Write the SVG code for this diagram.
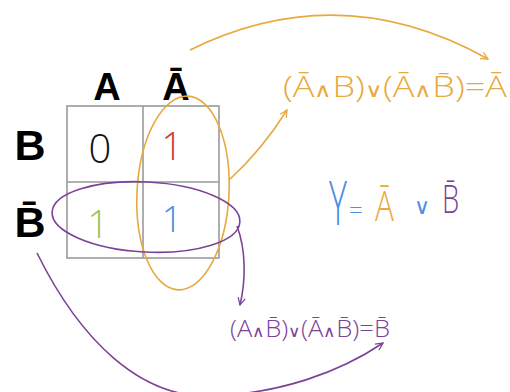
<svg xmlns="http://www.w3.org/2000/svg" width="510" height="392" viewBox="0 0 510 392">
<defs>
<style>
.grid{fill:none;stroke:#9a9a9a;stroke-width:1.6}
.hdr{font-family:"Liberation Sans",Arial,sans-serif;font-weight:bold;fill:#000}
.hand{font-family:"Open Sans","Liberation Sans",Arial,sans-serif;font-weight:300}
.op{font-family:"DejaVu Sans",sans-serif;font-weight:200}
.or{stroke:#e8a93e;fill:none;stroke-width:1.6}
.pu{stroke:#7b4398;fill:none;stroke-width:1.6}
</style>
<marker id="ao" viewBox="0 0 10 10" refX="9" refY="5" markerWidth="9" markerHeight="9" orient="auto" markerUnits="userSpaceOnUse">
<path d="M1,1 L9,5 L1,9" fill="none" stroke="#e8a93e" stroke-width="1.4"/>
</marker>
<marker id="ap" viewBox="0 0 10 10" refX="9" refY="5" markerWidth="9" markerHeight="9" orient="auto" markerUnits="userSpaceOnUse">
<path d="M1,1 L9,5 L1,9" fill="none" stroke="#7b4398" stroke-width="1.4"/>
</marker>
</defs>
<rect width="510" height="392" fill="#fff"/>

<g id="kmap">
<rect class="grid" x="67" y="106" width="152" height="152"/>
<line class="grid" x1="143" y1="106" x2="143" y2="258"/>
<line class="grid" x1="67" y1="182" x2="219" y2="182"/>
<text class="hdr" x="107" y="100" font-size="38" text-anchor="middle">A</text>
<text class="hdr" x="176" y="100" font-size="38" text-anchor="middle">Ā</text>
<text class="hdr" x="30" y="160" font-size="43" text-anchor="middle">B</text>
<text class="hdr" x="30" y="237" font-size="43" text-anchor="middle">B̄</text>
<text class="hand" x="100" y="163" font-size="40" fill="#111" text-anchor="middle">0</text>
<text class="hand" x="172" y="160" font-size="38" fill="#d03a35" text-anchor="middle">1</text>
<text class="hand" x="98" y="238" font-size="38" fill="#9cc35a" text-anchor="middle">1</text>
<text class="hand" x="172" y="232" font-size="36" fill="#4a8fe0" text-anchor="middle">1</text>
</g>

<g id="group-a-bar">
<ellipse class="or" cx="183" cy="193" rx="46" ry="97" transform="rotate(3 183 193)"/>
</g>
<g id="group-b-bar">
<ellipse class="pu" cx="146" cy="217" rx="94" ry="35" transform="rotate(3 146 217)"/>
</g>

<g id="expr-a">
<text class="hand" x="283" y="97" font-size="30" fill="#e8a93e" textLength="224" lengthAdjust="spacingAndGlyphs">(Ā<tspan class="op" font-size="20">∧</tspan>B)<tspan class="op" font-size="20">∨</tspan>(Ā<tspan class="op" font-size="20">∧</tspan>B̄)=Ā</text>
</g>
<g id="expr-y">
<text class="hand" font-size="40" fill="#4a8fe0" transform="translate(329,225) scale(0.85,1.5)">Y</text>
<text class="hand" x="349" y="219" font-size="24" fill="#4a8fe0">=</text>
<text class="hand" font-size="42" fill="#e8a93e" transform="translate(375,221) scale(0.75,1)">Ā</text>
<text class="op" x="414" y="214" font-size="22" fill="#4a8fe0">∨</text>
<text class="hand" font-size="38" fill="#7b4398" transform="translate(442,213) scale(0.72,1)">B̄</text>
</g>
<g id="expr-b">
<text class="hand" x="230" y="337" font-size="24" fill="#7b4398" textLength="160" lengthAdjust="spacingAndGlyphs">(A<tspan class="op" font-size="16">∧</tspan>B̄)<tspan class="op" font-size="16">∨</tspan>(Ā<tspan class="op" font-size="16">∧</tspan>B̄)=B̄</text>
</g>

<g id="connectors">
<path class="or" d="M190,50 Q340,-24 488,59" marker-end="url(#ao)"/>
<path class="or" d="M229,180 Q262,150 287,110" marker-end="url(#ao)"/>
<path class="pu" d="M237,226 C246,250 246,280 240,305" marker-end="url(#ap)"/>
<path class="pu" d="M37,253 C80,340 140,398 210,396 C280,394 340,372 383,343" marker-end="url(#ap)"/>
</g>
</svg>
